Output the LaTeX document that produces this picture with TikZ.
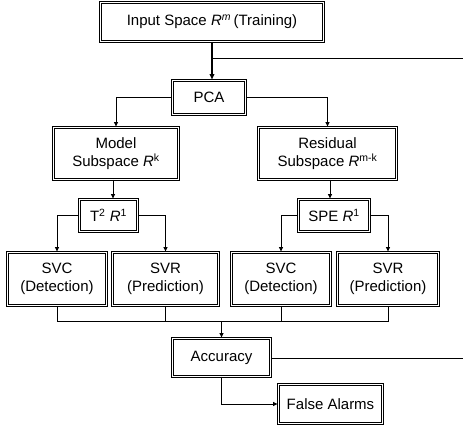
\documentclass[tikz,border=0pt]{standalone}
\usepackage{fontspec}
\setmainfont{Liberation Sans}
\usetikzlibrary{arrows.meta}
\begin{document}
\begin{tikzpicture}[x=1pt,y=-1pt,
  box/.style={draw=black,double,double distance=1.2pt,line width=0.9pt,fill=white,
    inner sep=0pt,align=center,font=\fontsize{15}{18}\selectfont},
  arr/.style={line width=0.8pt,-{Latex[length=5pt,width=4.5pt]}},
  ln/.style={line width=0.8pt},
  thk/.style={line width=1.6pt,-{Latex[length=6pt,width=5.5pt]}}]
\useasboundingbox (0,0) rectangle (463,428);
\node[box,minimum width=223pt,minimum height=39pt] (input) at (212,22) {Input Space \textit{R}\textsuperscript{\textit{m}}\,(Training)};
\node[box,minimum width=73pt,minimum height=34pt] (pca) at (209,97.5) {PCA};
\node[box,minimum width=125pt,minimum height=52pt] (model) at (116,153.5) {Model\\Subspace \textit{R}\textsuperscript{k}};
\node[box,minimum width=138pt,minimum height=52pt] (resid) at (327.5,153.5) {Residual\\Subspace \textit{R}\textsuperscript{m-k}};
\node[box,minimum width=58pt,minimum height=32pt] (t2) at (108.5,215.5) {T\textsuperscript{2} \textit{R}\textsuperscript{1}};
\node[box,minimum width=71pt,minimum height=32pt] (spe) at (334,215.5) {SPE \textit{R}\textsuperscript{1}};
\node[box,minimum width=99pt,minimum height=53pt] (svc1) at (57,279) {SVC\\(Detection)};
\node[box,minimum width=106pt,minimum height=53pt] (svr1) at (165.5,279) {SVR\\(Prediction)};
\node[box,minimum width=99pt,minimum height=53pt] (svc2) at (281,279) {SVC\\(Detection)};
\node[box,minimum width=101pt,minimum height=53pt] (svr2) at (388,279) {SVR\\(Prediction)};
\node[box,minimum width=98pt,minimum height=38pt] (acc) at (221.5,357.5) {Accuracy};
\node[box,minimum width=104pt,minimum height=39pt] (false) at (330.5,404) {False Alarms};
\coordinate (e1) at (463,58);
\coordinate (e2) at (463,358);
\coordinate (j) at (222,321);
\draw[thk] (input.south) -- (input.south |- pca.north);
\draw[ln] (input.south |- e1) -- (e1);
\draw[arr] (pca.west) -| (model.north);
\draw[arr] (pca.east) -| (resid.north);
\draw[arr] ([xshift=-3pt]model.south) -- ([xshift=-3pt]model.south |- t2.north);
\draw[arr] ([xshift=2.5pt]resid.south) -- ([xshift=2.5pt]resid.south |- spe.north);
\draw[arr] (t2.west) -| (svc1.north);
\draw[arr] (t2.east) -| (svr1.north);
\draw[arr] (spe.west) -| (svc2.north);
\draw[arr] (spe.east) -| (svr2.north);
\draw[ln] (svc1.south) -- (svc1.south |- j) -- (svr2.south |- j) -- (svr2.south);
\draw[ln] (svr1.south) -- (svr1.south |- j);
\draw[ln] (svc2.south) -- (svc2.south |- j);
\draw[arr] (acc.north |- j) -- (acc.north);
\draw[ln] (acc.east |- e2) -- (e2);
\draw[arr] (acc.south) |- (false.west);
\end{tikzpicture}
\end{document}
